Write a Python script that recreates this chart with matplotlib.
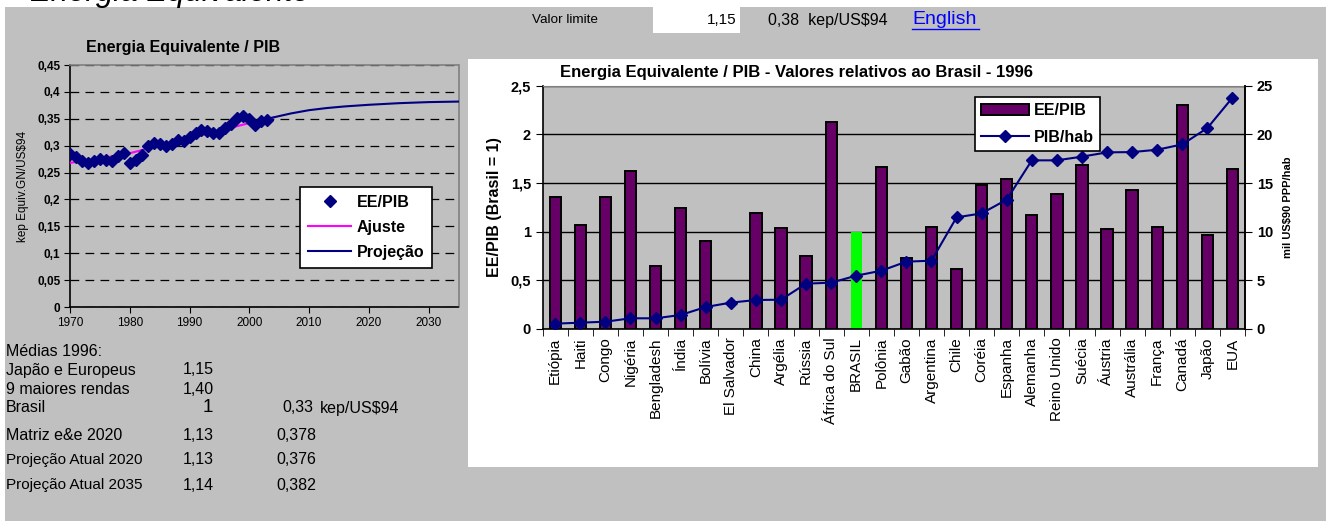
import numpy as np
import matplotlib.pyplot as plt
from matplotlib.patches import Rectangle
from matplotlib.ticker import FuncFormatter, MultipleLocator, FixedLocator

W, H = 1326, 521
GRAY = '#C0C0C0'
NAVY = '#000080'
PURPLE = '#660066'

# EE/PIB histórico (kep/US$94)
anos = list(range(1970, 2004))
ee_pib = [0.285, 0.279, 0.271, 0.267, 0.271, 0.275, 0.273, 0.271, 0.281, 0.287,
          0.268, 0.274, 0.282, 0.300, 0.305, 0.304, 0.300, 0.304, 0.311, 0.309,
          0.317, 0.324, 0.330, 0.327, 0.323, 0.324, 0.333, 0.341, 0.352, 0.356,
          0.349, 0.338, 0.346, 0.347]

# curva de ajuste e projeção
ajuste_anos = [1970, 1975, 1980, 1985, 1990, 1995, 2000, 2004]
ajuste = [0.268, 0.276, 0.286, 0.300, 0.314, 0.328, 0.342, 0.352]
proj_anos = [2003, 2005, 2007, 2010, 2013, 2016, 2020, 2025, 2030, 2035]
projecao = [0.350, 0.355, 0.360, 0.366, 0.370, 0.373, 0.376, 0.379, 0.381, 0.382]

# comparação internacional 1996
paises = ['Etiópia', 'Haiti', 'Congo', 'Nigéria', 'Bengladesh', 'Índia', 'Bolívia',
          'El Salvador', 'China', 'Argélia', 'Rússia', 'África do Sul', 'BRASIL',
          'Polônia', 'Gabão', 'Argentina', 'Chile', 'Coréia', 'Espanha', 'Alemanha',
          'Reino Unido', 'Suécia', 'Áustria', 'Austrália', 'França', 'Canadá',
          'Japão', 'EUA']
ee_rel = [1.356, 1.072, 1.353, 1.627, 0.644, 1.240, 0.908, np.nan, 1.188, 1.034,
          0.750, 2.130, 1.0, 1.661, 0.733, 1.051, 0.616, 1.479, 1.545, 1.175,
          1.384, 1.682, 1.031, 1.428, 1.045, 2.301, 0.966, 1.640]
pib_hab = [0.55, 0.65, 0.75, 1.10, 1.10, 1.44, 2.26, 2.71, 2.98, 3.01,
           4.66, 4.76, 5.48, 5.99, 6.92, 7.02, 11.47, 11.88, 13.29, 17.33,
           17.33, 17.71, 18.15, 18.18, 18.42, 18.97, 20.65, 23.77]


def fx(x):
    return x / W


def fy(y):
    return 1 - y / H


def box(x0, y0, x1, y1, color='white'):
    fig.patches.append(Rectangle((fx(x0), fy(y1)), fx(x1 - x0), (y1 - y0) / H,
                                 transform=fig.transFigure, facecolor=color,
                                 edgecolor='none', zorder=-1))


def txt(x, y, s, **kw):
    kw.setdefault('va', 'center')
    kw.setdefault('fontsize', 11.5)
    fig.text(fx(x), fy(y), s, **kw)


def virgula(v, pos):
    return ('%g' % round(v, 3)).replace('.', ',')


plt.rcParams['font.family'] = ['Liberation Sans', 'DejaVu Sans']
NARROW = ['Liberation Sans Narrow', 'Liberation Sans']

fig = plt.figure(figsize=(W / 100, H / 100), dpi=100, facecolor=GRAY)

# faixas brancas da planilha
box(0, 0, W, 7)
box(0, 0, 5, H)
box(653, 7, 740, 33)
box(468, 59, 1318, 467)

txt(30, 1.5, 'Energia Equivalente', fontsize=22.5, style='italic', va='baseline')
txt(532, 20, 'Valor limite', fontsize=9.7, family=NARROW)
txt(737, 20, '1,15', fontsize=11, ha='right', family=NARROW)
txt(768, 20, '0,38  kep/US$94', fontsize=11.5, family=NARROW)
txt(912, 19, 'English', fontsize=14, color='#0000FF')
fig.lines.append(plt.Line2D([fx(912), fx(979)], [fy(29), fy(29)],
                            transform=fig.transFigure, color='#0000FF', lw=1))

# ---- gráfico histórico ----
ax1 = fig.add_axes([fx(70), fy(307), fx(458.5 - 70), (307 - 65) / H])
ax1.set_facecolor(GRAY)
ax1.plot(ajuste_anos, ajuste, color='#FF00FF', lw=1.5, label='Ajuste', zorder=3)
ax1.plot(proj_anos, projecao, color=NAVY, lw=1.5, label='Projeção', zorder=3)
ax1.plot(anos, ee_pib, ls='none', marker='D', ms=6.5, color=NAVY,
         label='EE/PIB', zorder=4)
ax1.set_xlim(1970, 2035)
ax1.set_ylim(0, 0.45)
ax1.xaxis.set_major_locator(FixedLocator(range(1970, 2031, 10)))
ax1.yaxis.set_major_locator(MultipleLocator(0.05))
ax1.yaxis.set_major_formatter(FuncFormatter(virgula))
ax1.tick_params(axis='y', direction='out', length=4, labelsize=8.5, pad=3)
ax1.tick_params(axis='x', direction='out', length=4, labelsize=8.5, pad=3)
for lab in ax1.get_yticklabels():
    lab.set_fontweight('bold')
ax1.yaxis.grid(True, color='black', lw=0.9, ls=(0, (7, 5)))
ax1.set_axisbelow(True)
for s in ['top', 'right']:
    ax1.spines[s].set_color('#808080')
    ax1.spines[s].set_linewidth(1.2)
for s in ['left', 'bottom']:
    ax1.spines[s].set_linewidth(1.2)
h, l = ax1.get_legend_handles_labels()
leg1 = ax1.legend([h[2], h[0], h[1]], [l[2], l[0], l[1]], loc='upper left',
                  bbox_to_anchor=((300 - 70) / 388.5, (307 - 187) / 242),
                  borderaxespad=0, fancybox=False, framealpha=1,
                  edgecolor='black', prop={'weight': 'bold', 'size': 11.5},
                  handlelength=2.7, handletextpad=0.35, labelspacing=0.62,
                  borderpad=0.5)
leg1.get_frame().set_linewidth(1.2)
txt(183, 47, 'Energia Equivalente / PIB', fontsize=11.5, weight='bold', ha='center')
txt(23, 186, 'kep Equiv.GN/US$94', fontsize=8.5, rotation=90, ha='center')

# ---- comparação internacional ----
x = np.arange(len(paises))
ax2 = fig.add_axes([fx(542.7), fy(329), fx(1245 - 542.7), (329 - 85.7) / H])
ax2.set_facecolor(GRAY)
cores = ['#00FF00' if p == 'BRASIL' else PURPLE for p in paises]
bars = ax2.bar(x, ee_rel, width=0.45, color=cores, edgecolor='black', lw=1.4,
               label='EE/PIB', zorder=2)
bars[paises.index('BRASIL')].set_edgecolor('none')
ax2.set_xlim(-0.5, len(paises) - 0.5)
ax2.set_ylim(0, 2.5)
ax2.yaxis.set_major_locator(MultipleLocator(0.5))
ax2.yaxis.set_major_formatter(FuncFormatter(virgula))
ax2.set_xticks(x)
ax2.set_xticklabels(paises, rotation=90, fontsize=11)
ax2.set_xticks(np.arange(-0.5, len(paises)), minor=True)
ax2.tick_params(axis='x', which='major', length=0, pad=6)
ax2.tick_params(axis='x', which='minor', length=5, direction='out')
ax2.tick_params(axis='y', direction='out', length=5, labelsize=10.5)
for lab in ax2.get_yticklabels():
    lab.set_fontweight('bold')
ax2.yaxis.grid(True, color='black', lw=1)
ax2.set_axisbelow(True)
ax2.spines['top'].set_color('#808080')
for s in ['left', 'bottom', 'right']:
    ax2.spines[s].set_linewidth(1.2)

ax3 = ax2.twinx()
ax3.plot(x, pib_hab, color=NAVY, lw=1.5, marker='D', ms=6.5, label='PIB/hab',
         zorder=3)
ax3.set_ylim(0, 25)
ax3.yaxis.set_major_locator(MultipleLocator(5))
ax3.tick_params(axis='y', direction='out', length=5, labelsize=10.5)
for lab in ax3.get_yticklabels():
    lab.set_fontweight('bold')
for s in ['top', 'left', 'bottom']:
    ax3.spines[s].set_visible(False)
ax3.spines['right'].set_linewidth(1.2)

leg2 = ax3.legend([bars, ax3.lines[0]], ['EE/PIB', 'PIB/hab'], loc='upper left',
                  bbox_to_anchor=((975 - 542.7) / 702.3, (329 - 97) / 243.3),
                  borderaxespad=0, fancybox=False, framealpha=1,
                  edgecolor='black', prop={'weight': 'bold', 'size': 11.5},
                  handlelength=3.0, labelspacing=0.7, borderpad=0.4,
                  handletextpad=0.3)
leg2.get_frame().set_linewidth(1.2)

txt(797, 72, 'Energia Equivalente / PIB - Valores relativos ao Brasil - 1996',
    fontsize=12, weight='bold', ha='center')
txt(494, 207, 'EE/PIB (Brasil = 1)', fontsize=11.5, weight='bold',
    rotation=90, ha='center')
txt(1288, 207, 'mil US$90 PPP/hab', fontsize=8, weight='bold', rotation=90,
    ha='center')

# ---- quadro de médias ----
linhas = [
    ('Médias 1996:', None, None, None, 352),
    ('Japão e Europeus', '1,15', None, None, 370),
    ('9 maiores rendas', '1,40', None, None, 389),
    ('Brasil', '1', '0,33', 'kep/US$94', 408),
    ('Matriz e&e 2020', '1,13', '0,378', None, 435),
    ('Projeção Atual 2020', '1,13', '0,376', None, 460),
    ('Projeção Atual 2035', '1,14', '0,382', None, 485),
]
for nome, rel, abs_, unid, yy in linhas:
    fam = NARROW if nome.startswith('Projeção') else None
    txt(6, yy, nome, fontsize=11.5 if fam is None else 11, family=fam)
    if rel == '1':
        txt(213, yy, rel, fontsize=13.5, ha='right')
    elif rel:
        txt(183, yy, rel, fontsize=11.5)
    if abs_:
        txt(282 if unid else 276, yy, abs_, fontsize=11.5)
    if unid:
        txt(320, yy, unid, fontsize=11.5)

fig.savefig('out.png', dpi=100, facecolor=GRAY)
